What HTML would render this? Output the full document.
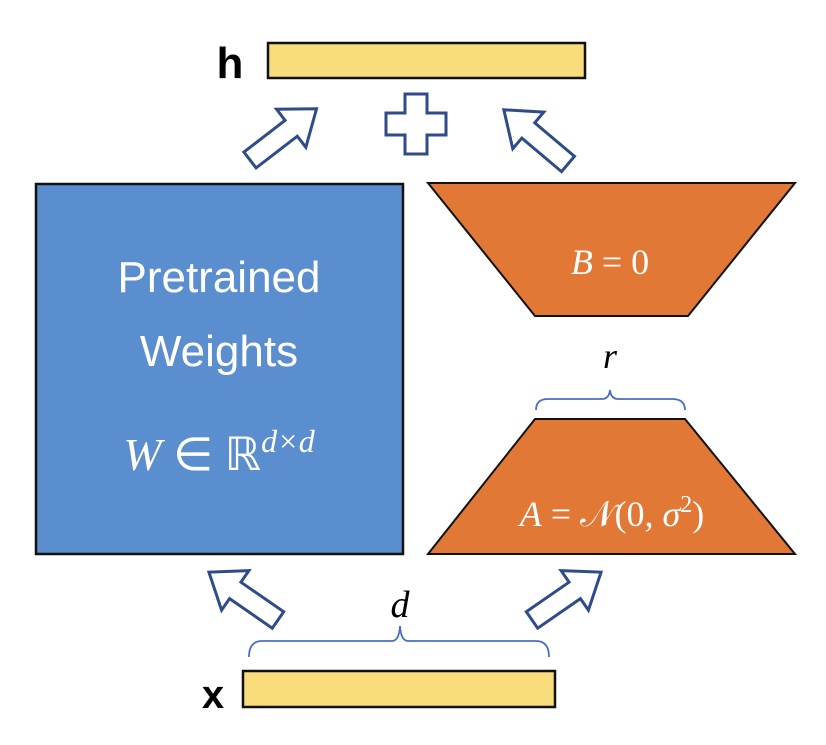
<!DOCTYPE html>
<html><head><style>body{margin:0;background:#fff}</style></head><body>
<svg width="826" height="740" xmlns="http://www.w3.org/2000/svg">
<defs>
<polygon id="ar" points="0,-10 52,-10 52,-24 84,0 52,24 52,10 0,10" fill="#fff" stroke="#2f4b8a" stroke-width="3" stroke-linejoin="miter"/>
</defs>
<rect x="268" y="43" width="317" height="35" fill="#f9dc7c" stroke="#111" stroke-width="2.5"/>
<rect x="243" y="671" width="312" height="36" fill="#f9dc7c" stroke="#111" stroke-width="2.5"/>
<text x="230" y="78" font-family="Liberation Sans, sans-serif" font-size="44" text-anchor="middle" font-weight="bold">h</text>
<text x="213" y="708" font-family="Liberation Sans, sans-serif" font-size="40" text-anchor="middle" font-weight="bold">x</text>
<rect x="36" y="184" width="367" height="370" fill="#5b8ecf" stroke="#111" stroke-width="2.5"/>
<polygon points="428,183 795,183 688,316 535,316" fill="#e27836" stroke="#111" stroke-width="2"/>
<polygon points="535,419 685,419 795,554 428,554" fill="#e27836" stroke="#111" stroke-width="2"/>
<g font-family="Liberation Sans, sans-serif" font-size="44" fill="#fff" text-anchor="middle">
<text x="219" y="292">Pretrained</text>
<text x="219" y="366">Weights</text>
</g>
<text x="219" y="470" font-family="Liberation Serif, serif" font-size="46" fill="#fff" text-anchor="middle"><tspan font-style="italic">W</tspan> ∈ ℝ<tspan font-style="italic" font-size="32" dy="-18">d×d</tspan></text>
<text x="610" y="274" font-family="Liberation Serif, serif" font-size="36" fill="#fff" text-anchor="middle"><tspan font-style="italic">B</tspan> = 0</text>
<text x="612" y="526" font-family="Liberation Serif, serif" font-size="36" fill="#fff" text-anchor="middle"><tspan font-style="italic">A</tspan> = 𝒩(0, <tspan font-style="italic">σ</tspan><tspan font-size="24" dy="-14">2</tspan><tspan dy="14">)</tspan></text>
<text x="610" y="368" font-family="Liberation Serif, serif" font-size="36" font-style="italic" text-anchor="middle">r</text>
<text x="400" y="617" font-family="Liberation Serif, serif" font-size="38" font-style="italic" text-anchor="middle">d</text>
<path d="M536,410 Q536,399 548,399 L602,399 Q609,399 610,390 Q611,399 618,399 L672,399 Q685,399 685,410" fill="none" stroke="#4a6fc0" stroke-width="1.8"/>
<path d="M249,657 Q249,641 262,641 L392,641 Q399,641 400,626 Q401,641 408,641 L536,641 Q549,641 549,657" fill="none" stroke="#4a6fc0" stroke-width="1.8"/>
<use href="#ar" transform="translate(250,160) rotate(-37.6)"/>
<use href="#ar" transform="translate(568,164) rotate(-139.8)"/>
<use href="#ar" transform="translate(278,620) rotate(-145.3)"/>
<use href="#ar" transform="translate(532,620) rotate(-34.7)"/>
<polygon points="405,94 427,94 427,113 446,113 446,135 427,135 427,154 405,154 405,135 386,135 386,113 405,113" fill="#fff" stroke="#2f4b8a" stroke-width="3"/>
</svg>
</body></html>
